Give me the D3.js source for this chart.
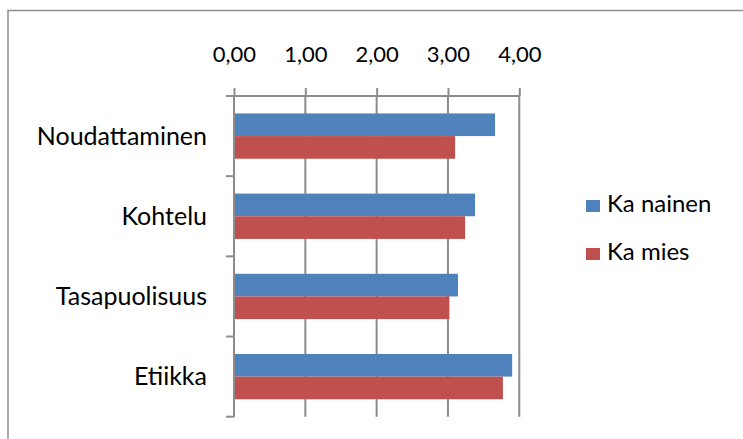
<!DOCTYPE html>
<html>
<head>
<meta charset="utf-8">
<script src="https://cdn.jsdelivr.net/npm/d3@7"></script>
<style>
  html, body { margin: 0; padding: 0; background: #fff; }
  svg { display: block; }
  text { font-family: Lato, "Open Sans", sans-serif; fill: #000; }
</style>
</head>
<body>
<svg id="chart" width="743" height="439"></svg>
<script>
// Average scores by topic, women vs. men
const categories = ["Noudattaminen", "Kohtelu", "Tasapuolisuus", "Etiikka"];
const seriesNames = ["Ka nainen", "Ka mies"];
const naisetValues = [3.66, 3.38, 3.14, 3.90];
const miehetValues = [3.10, 3.24, 3.02, 3.77];
const tickValues = [0, 1, 2, 3, 4];
const seriesColors = ["#4F81BD", "#C0504D"];

const rows = categories.map((c, i) => ({
  category: c,
  values: [naisetValues[i], miehetValues[i]]
}));

const svg = d3.select("#chart");
const gridColor = "#8c8c8c";
const fmt = v => d3.format(".2f")(v).replace(".", ",");

// Outer frame (top and left edges only)
svg.append("path")
  .attr("d", "M8,439 V10.5 H743")
  .attr("fill", "none")
  .attr("stroke", "#8f8f8f")
  .attr("stroke-width", 1.5);

const x = d3.scaleLinear().domain([0, 4]).range([234, 519.3]);
const y = d3.scaleBand().domain(categories).range([96, 416.7]).padding(0);
const ySeries = d3.scaleBand().domain(seriesNames).range([0, y.bandwidth()])
  .paddingInner(0).paddingOuter(0.77);

// Vertical gridlines
svg.append("g").selectAll("line")
  .data(tickValues)
  .join("line")
  .attr("x1", d => x(d)).attr("x2", d => x(d))
  .attr("y1", 96).attr("y2", 416.7)
  .attr("stroke", gridColor)
  .attr("stroke-width", 2);

// Bars
const groups = svg.append("g").selectAll("g")
  .data(rows)
  .join("g")
  .attr("transform", d => `translate(0,${y(d.category)})`);

groups.selectAll("rect")
  .data(d => d.values.map((v, i) => ({ name: seriesNames[i], value: v, i })))
  .join("rect")
  .attr("x", x(0))
  .attr("y", d => ySeries(d.name))
  .attr("width", d => x(d.value) - x(0))
  .attr("height", ySeries.bandwidth())
  .attr("fill", d => seriesColors[d.i]);

// Value axis along the top
const xAxis = d3.axisTop(x)
  .tickValues(tickValues)
  .tickFormat(fmt)
  .tickSize(8)
  .tickPadding(26);
const gx = svg.append("g")
  .attr("transform", "translate(0,96)")
  .call(xAxis);
gx.select(".domain").attr("stroke", gridColor).attr("stroke-width", 2)
  .attr("d", `M${x(0) - 8},0H${x(4)}`);
gx.selectAll(".tick line").attr("stroke", gridColor).attr("stroke-width", 2);
gx.selectAll(".tick text")
  .attr("font-size", 22)
  .attr("font-family", "Lato, 'Open Sans', sans-serif")
  .attr("fill", "#000");

// Category axis on the left, ticks between categories
const boundaries = [96, ...categories.map(c => y(c) + y.bandwidth())];
svg.append("line")
  .attr("x1", x(0)).attr("x2", x(0))
  .attr("y1", 96).attr("y2", 416.7)
  .attr("stroke", gridColor).attr("stroke-width", 2);
svg.append("g").selectAll("line")
  .data(boundaries)
  .join("line")
  .attr("x1", x(0) - 8).attr("x2", x(0))
  .attr("y1", d => d).attr("y2", d => d)
  .attr("stroke", gridColor).attr("stroke-width", 2);

svg.append("g").selectAll("text")
  .data(categories)
  .join("text")
  .attr("x", 207)
  .attr("y", d => y(d) + y.bandwidth() / 2)
  .attr("dy", "0.35em")
  .attr("text-anchor", "end")
  .attr("font-size", 25)
  .text(d => d);

// Legend
const legend = svg.append("g").selectAll("g")
  .data(seriesNames)
  .join("g")
  .attr("transform", (d, i) => `translate(586,${200 + i * 48})`);
legend.append("rect")
  .attr("width", 14).attr("height", 12)
  .attr("fill", (d, i) => seriesColors[i]);
legend.append("text")
  .attr("x", 21).attr("y", 12)
  .attr("font-size", 24)
  .text(d => d);
</script>
</body>
</html>
